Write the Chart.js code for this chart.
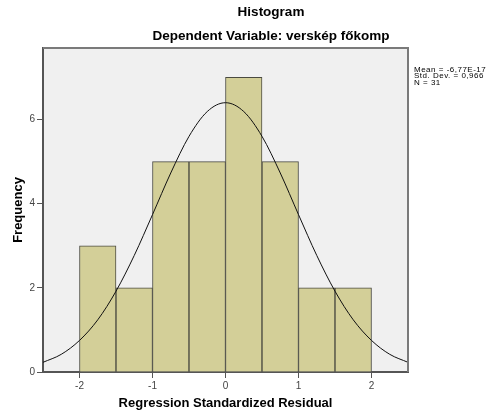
<!DOCTYPE html>
<html>
<head>
<meta charset="utf-8">
<script src="https://cdn.jsdelivr.net/npm/chart.js@4"></script>
<style>
  body { margin: 0; background: #fff; }
  #wrap { width: 488px; height: 416px; }
</style>
</head>
<body>
<div id="wrap"><canvas id="hist" width="488" height="416"></canvas></div>
<script>
// histogram bins (centres, width 0.5) and counts
const binCenters = [-1.75, -1.25, -0.75, -0.25, 0.25, 0.75, 1.25, 1.75];
const binCounts = [3, 2, 5, 5, 7, 5, 2, 2];

// normal curve
const curveX = [-2.5, -2.25, -2, -1.75, -1.5, -1.25, -1, -0.75, -0.5, -0.25, 0,
                0.25, 0.5, 0.75, 1, 1.25, 1.5, 1.75, 2, 2.25, 2.5];
const curveY = [0.23, 0.42, 0.75, 1.24, 1.92, 2.77, 3.74, 4.73, 5.6, 6.19, 6.4,
                6.19, 5.6, 4.73, 3.74, 2.77, 1.92, 1.24, 0.75, 0.42, 0.23];

const xTicks = [-2, -1, 0, 1, 2];
const yTicks = [0, 2, 4, 6];

const titleText = 'Histogram';
const subtitleText = 'Dependent Variable: verskép főkomp';
const statsText = ['Mean = -6,77E-17', 'Std. Dev. = 0,966', 'N = 31'];
const xTitle = 'Regression Standardized Residual';
const yTitle = 'Frequency';

const FONT = '"Liberation Sans", Arial, sans-serif';

// background, frame and all the free text
const decor = {
    id: 'decor',
    beforeDraw(chart) {
        const { ctx, chartArea: a } = chart;
        ctx.save();
        ctx.fillStyle = '#ffffff';
        ctx.fillRect(0, 0, chart.width, chart.height);
        ctx.fillStyle = '#f0f0f0';
        ctx.fillRect(a.left, a.top, a.right - a.left, a.bottom - a.top);
        ctx.restore();
    },
    afterDraw(chart) {
        const { ctx, chartArea: a } = chart;
        ctx.save();
        // top + right frame
        ctx.strokeStyle = '#7a7a7a';
        ctx.lineWidth = 2;
        ctx.beginPath();
        ctx.moveTo(a.left, a.top);
        ctx.lineTo(a.right, a.top);
        ctx.lineTo(a.right, a.bottom);
        ctx.stroke();

        ctx.fillStyle = '#000';
        ctx.textAlign = 'center';
        ctx.textBaseline = 'middle';
        ctx.font = 'bold 13.5px ' + FONT;
        ctx.fillText(titleText, 271, 12);
        ctx.fillText(subtitleText, 271, 36);
        ctx.font = 'bold 13px ' + FONT;
        ctx.fillText(xTitle, (a.left + a.right) / 2, 403);

        ctx.save();
        ctx.translate(18, (a.top + a.bottom) / 2);
        ctx.rotate(-Math.PI / 2);
        ctx.fillText(yTitle, 0, 0);
        ctx.restore();

        ctx.textAlign = 'left';
        ctx.font = '8px ' + FONT;
        ctx.letterSpacing = '0.5px';
        statsText.forEach((t, i) => ctx.fillText(t, 414, 70 + i * 6.2));
        ctx.restore();
    }
};

new Chart(document.getElementById('hist'), {
    type: 'bar',
    data: {
        datasets: [
            {
                type: 'line',
                data: curveX.map((x, i) => ({ x: x, y: curveY[i] })),
                borderColor: '#111',
                borderWidth: 1,
                pointRadius: 0,
                tension: 0.4,
                cubicInterpolationMode: 'monotone',
                order: 1
            },
            {
                data: binCenters.map((x, i) => ({ x: x, y: binCounts[i] })),
                backgroundColor: '#d3cf98',
                borderColor: '#4a4a40',
                borderWidth: 1,
                barPercentage: 1,
                categoryPercentage: 1,
                order: 2
            }
        ]
    },
    options: {
        responsive: false,
        animation: false,
        layout: { padding: { top: 48, right: 80, left: 0, bottom: 0 } },
        plugins: {
            legend: { display: false },
            tooltip: { enabled: false }
        },
        scales: {
            x: {
                type: 'linear',
                min: -2.5,
                max: 2.5,
                offset: false,
                afterBuildTicks: s => { s.ticks = xTicks.map(v => ({ value: v })); },
                afterFit: s => { s.height = 44; },
                ticks: { color: '#444', font: { family: FONT, size: 10 }, padding: 2 },
                grid: { offset: false, drawOnChartArea: false, tickLength: 6, color: '#555' },
                border: { color: '#555', width: 2 }
            },
            y: {
                min: 0,
                max: 7.7,
                afterBuildTicks: s => { s.ticks = yTicks.map(v => ({ value: v })); },
                afterFit: s => { s.width = 43; },
                ticks: { color: '#444', font: { family: FONT, size: 10 }, padding: 2 },
                grid: { drawOnChartArea: false, tickLength: 6, color: '#555' },
                border: { color: '#555', width: 2 }
            }
        }
    },
    plugins: [decor]
});
</script>
</body>
</html>
